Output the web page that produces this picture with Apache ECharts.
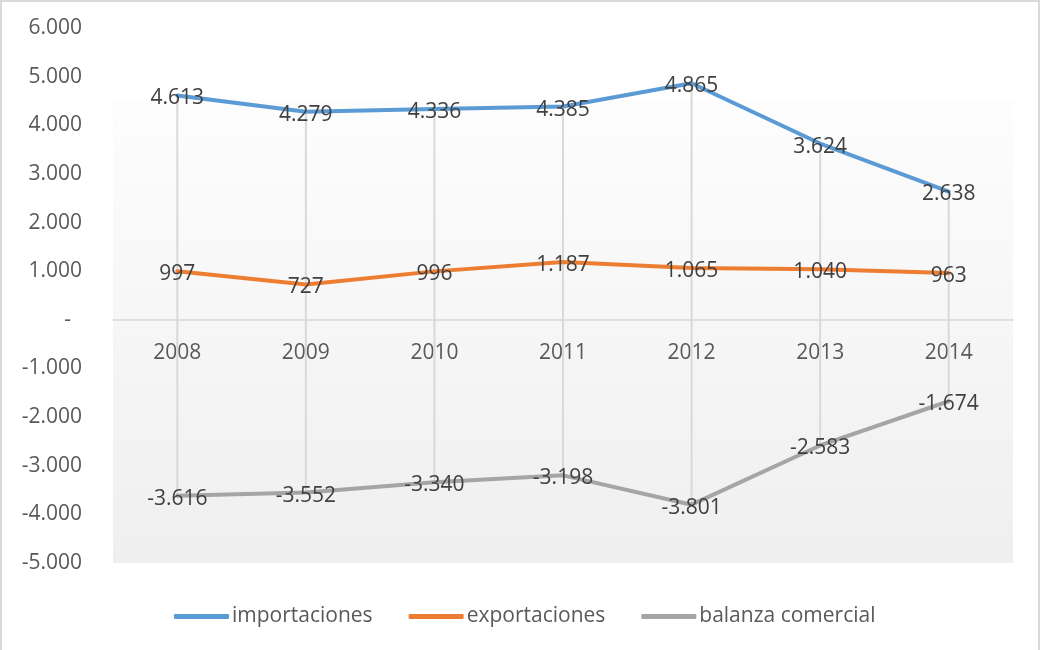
<!DOCTYPE html>
<html>
<head>
<meta charset="utf-8">
<script src="https://cdn.jsdelivr.net/npm/echarts@6/dist/echarts.min.js"></script>
<style>
  html, body { margin: 0; padding: 0; background: #fff; }
  #chart { width: 1041px; height: 650px; }
</style>
</head>
<body>
<div id="chart"></div>
<script>
// 年份 / series values (millones)
const years = ['2008', '2009', '2010', '2011', '2012', '2013', '2014'];
const importaciones = [4613, 4279, 4336, 4385, 4865, 3624, 2638];
const exportaciones = [997, 727, 996, 1187, 1065, 1040, 963];
const balanza = [-3616, -3552, -3340, -3198, -3801, -2583, -1674];

const FONT = 'Open Sans';
const Y_MIN = -5000;
const Y_MAX = 6000;
const GRID_TOP = 28;
const GRID_BOTTOM = 87;
const GRID_H = 650 - GRID_TOP - GRID_BOTTOM;

// 1234 -> "1.234"
const fmt = (v) => {
  const s = Math.abs(v).toString().replace(/\B(?=(\d{3})+(?!\d))/g, '.');
  return (v < 0 ? '-' : '') + s;
};

// high-low lines (Excel style), from max to min value of each year
const highLow = years.map((y, i) => [
  i,
  Math.max(importaciones[i], exportaciones[i], balanza[i]),
  Math.min(importaciones[i], exportaciones[i], balanza[i]),
]);

const chart = echarts.init(document.getElementById('chart'));

const lineSeries = (name, data, color) => ({
  name,
  type: 'line',
  data,
  symbol: 'circle',
  symbolSize: 1,
  showSymbol: true,
  z: 3,
  lineStyle: { color, width: 4, cap: 'round', join: 'round' },
  itemStyle: { color },
  label: {
    show: true,
    position: 'top',
    distance: -14,
    formatter: (p) => fmt(p.value),
    color: '#404040',
    fontFamily: FONT,
    fontSize: 21,
  },
});

const option = {
  animation: false,
  backgroundColor: '#fff',
  grid: {
    left: 113,
    right: 28,
    top: GRID_TOP,
    bottom: GRID_BOTTOM,
    show: true,
    borderWidth: 0,
    backgroundColor: {
      type: 'linear',
      x: 0, y: 0, x2: 0, y2: 1,
      colorStops: [
        { offset: 0, color: '#ffffff' },
        { offset: 0.134, color: '#ffffff' },
        { offset: 0.136, color: '#fdfdfd' },
        { offset: 1, color: '#efefef' },
      ],
    },
  },
  legend: {
    bottom: 18,
    left: 169,
    data: ['importaciones', 'exportaciones', 'balanza comercial'],
    icon: 'roundRect',
    itemWidth: 55,
    itemHeight: 5,
    itemGap: 36,
    textStyle: { color: '#595959', fontFamily: FONT, fontSize: 21, padding: [0, 0, 0, -2] },
  },
  xAxis: {
    type: 'category',
    data: years,
    boundaryGap: true,
    position: 'bottom',
    // move axis (line + labels) up to the zero level
    offset: -GRID_H * (0 - Y_MIN) / (Y_MAX - Y_MIN),
    axisLine: { onZero: false, lineStyle: { color: '#d9d9d9', width: 1.5 } },
    axisTick: { show: false },
    axisLabel: { color: '#595959', fontFamily: FONT, fontSize: 21, margin: 23 },
    splitLine: { show: false },
  },
  yAxis: {
    type: 'value',
    min: Y_MIN,
    max: Y_MAX,
    interval: 1000,
    axisLine: { show: false },
    axisTick: { show: false },
    splitLine: { show: false },
    axisLabel: {
      color: '#595959',
      fontFamily: FONT,
      fontSize: 21,
      margin: 31,
      formatter: (v) => (v === 0 ? '-  ' : fmt(v)),
    },
  },
  series: [
    {
      name: 'highLow',
      type: 'custom',
      data: highLow,
      z: 1,
      silent: true,
      encode: { x: 0, y: [1, 2] },
      renderItem: (params, api) => {
        const top = api.coord([api.value(0), api.value(1)]);
        const bottom = api.coord([api.value(0), api.value(2)]);
        return {
          type: 'line',
          shape: { x1: top[0], y1: top[1], x2: bottom[0], y2: bottom[1] },
          style: { stroke: '#d9d9d9', lineWidth: 2 },
        };
      },
    },
    lineSeries('importaciones', importaciones, '#5b9bd5'),
    lineSeries('exportaciones', exportaciones, '#ed7d31'),
    lineSeries('balanza comercial', balanza, '#a5a5a5'),
  ],
  graphic: [
    {
      type: 'rect',
      shape: { x: 1, y: 1, width: 1038, height: 700 },
      style: { fill: null, stroke: '#d9d9d9', lineWidth: 2 },
      silent: true,
    },
  ],
};

chart.setOption(option);
window.addEventListener('resize', () => chart.resize());
</script>
</body>
</html>
